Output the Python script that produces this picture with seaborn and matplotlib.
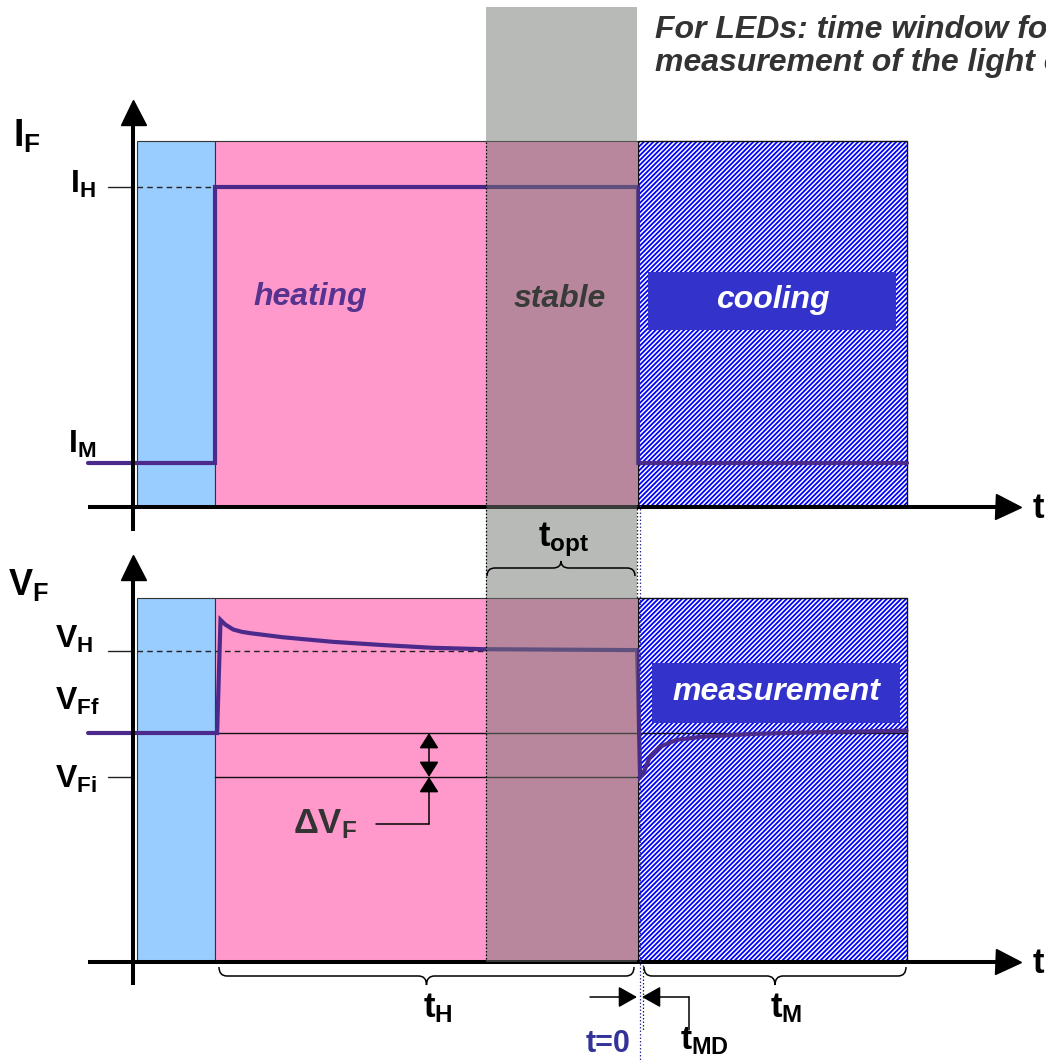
import matplotlib
matplotlib.use("Agg")
import matplotlib.pyplot as plt
from matplotlib.patches import Rectangle, PathPatch
from matplotlib.path import Path
import seaborn as sns

sns.set_style("white")
plt.rcParams["font.family"] = ["Liberation Sans", "DejaVu Sans"]
plt.rcParams["font.weight"] = "bold"
plt.rcParams["mathtext.fontset"] = "custom"
plt.rcParams["mathtext.rm"] = "Liberation Sans:bold"
plt.rcParams["mathtext.bf"] = "Liberation Sans:bold"
plt.rcParams["mathtext.it"] = "Liberation Sans:italic:bold"
plt.rcParams["hatch.linewidth"] = 1.3

# ---- time axis (arbitrary units, t = 0 when the heating current is switched off)
T_LEFT = -13.0      # start of the drawn waveforms / time axis
T_YAXIS = -11.94    # position of the vertical axes
T_BLUE = -11.85     # start of the initial measurement-current phase
T_HEAT = -10.0      # heating current switched on
T_STABLE = -3.6     # thermal steady state reached
T_OFF = 0.0         # heating current switched off (t = 0)
T_END = 6.35        # end of the cooling / measurement phase
T_ARROW = 8.75      # arrow head of the time axes

# ---- forward current levels
I_M = 1.45
I_H = 10.5
I_TOP = 12.0

# ---- forward voltage levels
V_FF = 5.0
V_FI = 4.04
V_H = 6.8
V_TOP = 7.95

# ---- current waveform I_F(t)
i_time = [T_LEFT, T_HEAT, T_HEAT, T_OFF, T_OFF, T_END]
i_value = [I_M, I_M, I_H, I_H, I_M, I_M]

# ---- voltage waveform V_F(t)
v_time = [-13.0, -9.95, -9.87, -9.76, -9.57, -9.37, -9.17, -8.39, -7.21, -6.03,
          -4.85, -3.66, -0.02, 0.05, 0.13, 0.28, 0.52, 0.91, 1.54, 2.72, 4.30, 6.35]
v_value = [5.00, 5.00, 7.47, 7.37, 7.26, 7.21, 7.18, 7.09, 6.99, 6.92,
           6.86, 6.83, 6.81, 4.04, 4.13, 4.48, 4.70, 4.85, 4.92, 4.98, 5.02, 5.05]

# ---- colours
PURPLE = "#4b2a8c"
BLUE_PHASE = "#99ccff"
PINK = "#ff99cc"
HATCH_BLUE = "#0000ff"
BOX_BLUE = "#3333cc"
EDGE = "#333333"

W, H = 1046, 1061
PX_T = 42.3          # pixels per time unit
X_OFF = 638          # pixel column of t = 0
XLIM = ((0 - X_OFF) / PX_T, (W - X_OFF) / PX_T)

fig = plt.figure(figsize=(W / 100, H / 100), dpi=100)

# current panel: I = 0 on pixel row 507, 30.48 px per unit
ax_i = fig.add_axes([0, 1 - 540 / H, 1, 450 / H])
ax_i.set_ylim((507 - 540) / 30.48, (507 - 90) / 30.48)
# voltage panel: V = 0 on pixel row 962, 45.8 px per unit
ax_v = fig.add_axes([0, 0, 1, 521 / H])
ax_v.set_ylim((962 - 1061) / 45.8, (962 - 540) / 45.8)
# annotation layer on top (time on x, pixel rows on y)
ax_o = fig.add_axes([0, 0, 1, 1])
ax_o.set_ylim(H, 0)

for z, ax in enumerate((ax_i, ax_v, ax_o)):
    ax.set_xlim(*XLIM)
    ax.set_axis_off()
    ax.patch.set_visible(False)
    ax.set_zorder(z + 1)


def phases(ax, top):
    ax.add_patch(Rectangle((T_BLUE, 0), T_HEAT - T_BLUE, top, facecolor=BLUE_PHASE,
                           edgecolor=EDGE, lw=0.8, zorder=1))
    ax.add_patch(Rectangle((T_HEAT, 0), T_OFF - T_HEAT, top, facecolor=PINK,
                           edgecolor=EDGE, lw=0.8, zorder=1))
    ax.add_patch(Rectangle((T_OFF, 0), T_END - T_OFF, top, facecolor="white",
                           edgecolor=HATCH_BLUE, hatch="///////", lw=0, zorder=1))
    ax.add_patch(Rectangle((T_OFF, 0), T_END - T_OFF, top, fill=False,
                           edgecolor="#111111", lw=1.0, zorder=1.5))


def axes_arrows(ax, y_bottom, y_tip):
    ax.plot([T_YAXIS, T_YAXIS], [y_bottom, y_tip], color="black", lw=2.9,
            solid_capstyle="butt", zorder=6, clip_on=False)
    ax.plot([T_YAXIS], [y_tip], marker="^", markersize=18, color="black",
            zorder=6, clip_on=False)
    ax.plot([T_LEFT, T_ARROW], [0, 0], color="black", lw=2.9,
            solid_capstyle="butt", zorder=6, clip_on=False)
    ax.plot([T_ARROW], [0], marker=">", markersize=18, color="black",
            zorder=6, clip_on=False)


def label(ax, x, y, s, size, color="black", **kw):
    ax.text(x, y, s, fontsize=size, color=color, ha="left", va="baseline",
            clip_on=False, **kw)


def px(col):
    return (col - X_OFF) / PX_T


# ================= current panel =================
phases(ax_i, I_TOP)
sns.lineplot(x=i_time, y=i_value, ax=ax_i, sort=False, estimator=None,
             color=PURPLE, linewidth=3, solid_joinstyle="miter", zorder=4)
ax_i.plot([px(108), T_YAXIS], [I_H, I_H], color="#222222", lw=1, zorder=5)
ax_i.plot([T_BLUE, T_HEAT], [I_H, I_H], color="#222222", lw=1,
          linestyle=(0, (4, 3)), zorder=5)
axes_arrows(ax_i, (507 - 531) / 30.48, (507 - 112) / 30.48)

label(ax_i, px(13), (507 - 147) / 30.48, r"$\mathbf{I}_\mathbf{F}$", 27)
label(ax_i, px(70), (507 - 193) / 30.48, r"$\mathbf{I}_\mathbf{H}$", 23)
label(ax_i, px(68), (507 - 453) / 30.48, r"$\mathbf{I}_\mathbf{M}$", 23)
label(ax_i, px(1033), (507 - 518) / 30.48, "t", 25)

ax_i.text(px(310), 6.89, "heating", fontsize=23, style="italic", color="#55338f",
          ha="center", va="center", zorder=5)
ax_i.text(px(560), 6.82, "stable", fontsize=23, style="italic", color="black",
          ha="center", va="center", zorder=5)
ax_i.add_patch(Rectangle((px(648), (507 - 330) / 30.48), px(896) - px(648),
                         58 / 30.48, facecolor=BOX_BLUE, lw=0, zorder=3))
ax_i.text(px(773), (507 - 300) / 30.48, "cooling", fontsize=23, style="italic",
          color="white", ha="center", va="center", zorder=5)

# ================= voltage panel =================
phases(ax_v, V_TOP)
ax_v.plot([T_HEAT, T_END], [V_FF, V_FF], color="#111111", lw=1, zorder=2)
ax_v.plot([T_HEAT, T_OFF], [V_FI, V_FI], color="#111111", lw=1, zorder=2)
sns.lineplot(x=v_time, y=v_value, ax=ax_v, sort=False, estimator=None,
             color=PURPLE, linewidth=3, solid_joinstyle="miter", zorder=4)
ax_v.plot([px(108), T_YAXIS], [V_H, V_H], color="#222222", lw=1, zorder=5)
ax_v.plot([px(108), T_YAXIS], [V_FI, V_FI], color="#222222", lw=1, zorder=5)
ax_v.plot([T_BLUE, T_STABLE], [V_H, V_H], color="#222222", lw=1,
          linestyle=(0, (4, 3)), zorder=3)
axes_arrows(ax_v, (962 - 985) / 45.8, (962 - 567) / 45.8)

label(ax_v, px(8), (962 - 595) / 45.8, r"$\mathbf{V}_\mathbf{F}$", 26)
label(ax_v, px(55), (962 - 648) / 45.8, r"$\mathbf{V}_\mathbf{H}$", 23)
label(ax_v, px(55), (962 - 710) / 45.8, r"$\mathbf{V}_\mathbf{Ff}$", 23)
label(ax_v, px(55), (962 - 788) / 45.8, r"$\mathbf{V}_\mathbf{Fi}$", 23)
label(ax_v, px(1033), (962 - 973) / 45.8, "t", 25)

ax_v.add_patch(Rectangle((px(652), (962 - 723) / 45.8), px(900) - px(652),
                         60 / 45.8, facecolor=BOX_BLUE, lw=0, zorder=3))
ax_v.text(px(776), (962 - 692) / 45.8, "measurement", fontsize=23, style="italic",
          color="white", ha="center", va="center", zorder=5)

# delta V_F marker
x_dv = px(429)
small_head = dict(color="black", lw=1.1, shrinkA=0, shrinkB=0, mutation_scale=10)
ax_v.annotate("", xy=(x_dv, V_FF), xytext=(x_dv, V_FI),
              arrowprops=dict(arrowstyle="<|-|>,head_length=0.95,head_width=0.6",
                              **small_head), zorder=6)
y_lead = (962 - 824) / 45.8
ax_v.annotate("", xy=(x_dv, V_FI), xytext=(x_dv, y_lead),
              arrowprops=dict(arrowstyle="-|>,head_length=0.95,head_width=0.6",
                              **small_head), zorder=6)
ax_v.plot([px(376), x_dv], [y_lead, y_lead], color="black", lw=1.1, zorder=6)
label(ax_v, px(293), (962 - 833) / 45.8, r"Δ$\mathbf{V}_\mathbf{F}$", 25,
      color="#333333")

# t_MD markers
y_md = (962 - 997) / 45.8
big_head = dict(color="black", lw=1.1, shrinkA=0, shrinkB=0, mutation_scale=10)
ax_v.annotate("", xy=(px(637), y_md), xytext=(px(590), y_md),
              arrowprops=dict(arrowstyle="-|>,head_length=1.15,head_width=0.65",
                              **big_head), annotation_clip=False)
ax_v.annotate("", xy=(px(642), y_md), xytext=(px(689), y_md),
              arrowprops=dict(arrowstyle="-|>,head_length=1.15,head_width=0.65",
                              **big_head), annotation_clip=False)
ax_v.plot([px(689), px(689)], [y_md, (962 - 1030) / 45.8], color="black", lw=1.1,
          clip_on=False)

# ================= overlay layer =================
ax_o.add_patch(Rectangle((T_STABLE, 7), px(637) - T_STABLE, 962 - 7,
                         facecolor=(115 / 255, 119 / 255, 114 / 255), alpha=0.5,
                         lw=0, zorder=1))
ax_o.plot([T_STABLE, T_STABLE], [142, 960], color="black", lw=0.9,
          linestyle=(0, (1.2, 1.6)), zorder=2)
ax_o.plot([px(637), px(637)], [505, 598], color="#222222", lw=0.9,
          linestyle=(0, (1.2, 1.6)), zorder=2)
ax_o.plot([px(640), px(640)], [505, H], color="#33339a", lw=0.9,
          linestyle=(0, (1.2, 1.6)), zorder=2)
ax_o.plot([px(643), px(643)], [965, 1030], color="#222222", lw=0.9,
          linestyle=(0, (1.2, 1.6)), zorder=2)


def brace(ax, x0, x1, y_end, y_mid, y_tip, r):
    xc = 0.5 * (x0 + x1)
    verts = [(x0, y_end), (x0, y_mid), (x0 + r, y_mid),
             (xc - r, y_mid), (xc, y_mid), (xc, y_tip),
             (xc, y_mid), (xc + r, y_mid),
             (x1 - r, y_mid), (x1, y_mid), (x1, y_end)]
    codes = [Path.MOVETO, Path.CURVE3, Path.CURVE3,
             Path.LINETO, Path.CURVE3, Path.CURVE3,
             Path.CURVE3, Path.CURVE3,
             Path.LINETO, Path.CURVE3, Path.CURVE3]
    ax.add_patch(PathPatch(Path(verts, codes), fill=False, edgecolor="black",
                           lw=1.1, zorder=3))


r_curl = 8 / PX_T
brace(ax_o, px(487), px(635), 576, 568, 561, r_curl)
brace(ax_o, px(219), px(634), 967, 976, 985, r_curl)
brace(ax_o, px(644), px(906), 967, 976, 985, r_curl)

label(ax_o, px(538), 546, r"$\mathbf{t}_\mathbf{opt}$", 25, zorder=4)
label(ax_o, px(423), 1017, r"$\mathbf{t}_\mathbf{H}$", 25, zorder=4)
label(ax_o, px(770), 1017, r"$\mathbf{t}_\mathbf{M}$", 25, zorder=4)
label(ax_o, px(680), 1050, r"$\mathbf{t}_\mathbf{MD}$", 24, zorder=4)
ax_o.text(px(631), 1052, "t=0", fontsize=22, color="#333399", ha="right",
          va="baseline", zorder=4)

ax_o.text(px(655), 38, "For LEDs: time window for", fontsize=23, style="italic",
          color="#333333", ha="left", va="baseline")
ax_o.text(px(655), 71, "measurement of the light output", fontsize=23,
          style="italic", color="#333333", ha="left", va="baseline")

fig.savefig("out.png", dpi=100)
